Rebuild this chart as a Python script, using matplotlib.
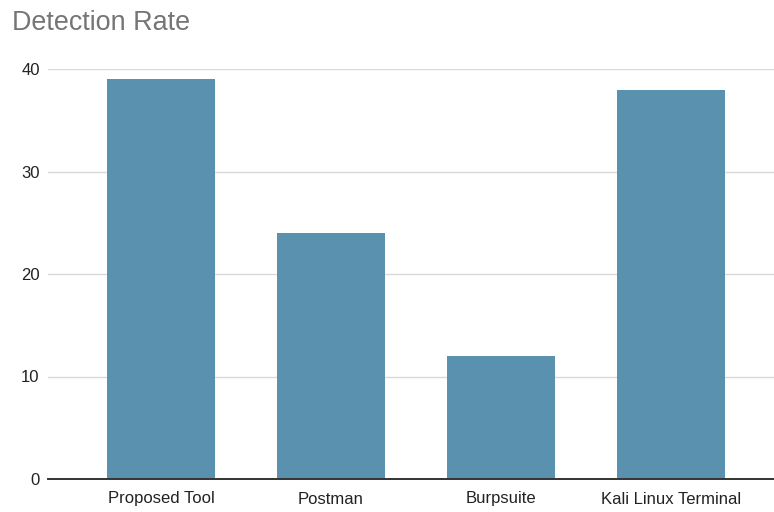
import matplotlib
matplotlib.use('Agg')
import matplotlib.pyplot as plt

categories = ['Proposed Tool', 'Postman', 'Burpsuite', 'Kali Linux Terminal']
detection = [39, 24, 12, 38]
y_ticks = [0, 10, 20, 30, 40]

plt.rcParams['font.family'] = ['Liberation Sans', 'DejaVu Sans']

fig = plt.figure(figsize=(7.74, 5.12), dpi=100)
ax = fig.add_axes([48 / 774, 33 / 512, 726 / 774, 410 / 512])

x = list(range(len(categories)))
ax.bar(x, detection, width=0.635, color='#5991AF', zorder=3)

ax.set_xlim(-0.665, 3.606)
ax.set_ylim(0, 40)
ax.set_yticks(y_ticks)
ax.set_xticks(x)
ax.set_xticklabels(categories)

ax.grid(axis='y', color='#d9d9d9', linewidth=1.0, zorder=0)
for side in ['top', 'right', 'left']:
    ax.spines[side].set_visible(False)
ax.spines['bottom'].set_color('#333333')
ax.spines['bottom'].set_linewidth(1.4)
ax.spines['bottom'].set_zorder(4)

ax.tick_params(axis='both', length=0, labelsize=12, colors='#222222')
ax.tick_params(axis='x', pad=9)
ax.tick_params(axis='y', pad=6)

fig.text(12 / 774, 1 - 23 / 512, 'Detection Rate', fontsize=19.4, color='#757575',
         ha='left', va='center')

fig.savefig('out.png', dpi=100)
